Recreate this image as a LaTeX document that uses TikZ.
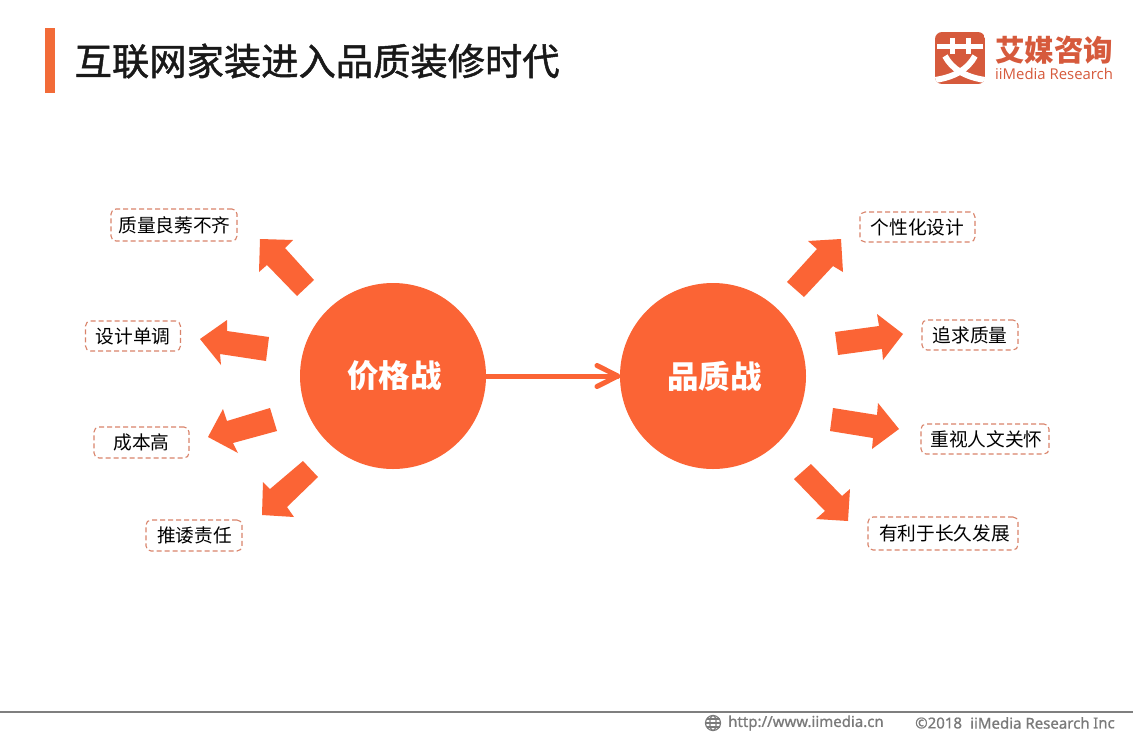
\documentclass[tikz,border=0pt]{standalone}
\usepackage{fontspec}
\usetikzlibrary{calc}
\setmainfont{Noto Sans CJK SC}
\newfontfamily\latinf{Open Sans}
\newfontfamily\footf[FakeBold=0.9]{Noto Sans}
\newfontfamily\titlef[FakeBold=1.3]{Noto Sans CJK SC}
\definecolor{orangeA}{HTML}{FB6435}
\definecolor{barC}{HTML}{F26B38}
\definecolor{logoC}{HTML}{D65A3C}
\definecolor{dashC}{HTML}{D9836A}
\definecolor{footC}{HTML}{7A7A7A}
\definecolor{lineC}{HTML}{7F7F7F}
\newcommand{\fs}[1]{\fontsize{#1pt}{#1pt}\selectfont}
\newcommand{\tg}[2][0pt]{\hspace*{#1}\raisebox{-1pt}{#2}}
\tikzset{
  tag/.style={draw=dashC,line width=1.1pt,dash pattern=on 5pt off 3pt,rounded corners=5pt,inner sep=0pt,font=\fs{18.7},text=black,anchor=center},
  hub/.style={circle,fill=orangeA,inner sep=0pt,minimum size=186pt,text=white,font=\fs{31.5}\bfseries},
  blockarrow/.style={fill=orangeA,draw=none},
  foot/.style={inner sep=0pt,anchor=west,text=footC,font=\footf\fs{15}},
  link/.style={orangeA,line width=5pt,line cap=round,line join=round}
}
\begin{document}
\begin{tikzpicture}[x=1pt,y=-1pt]
\useasboundingbox (0,0) rectangle (1133,737);
\fill[white] (0,0) rectangle (1133,737);
% title
\fill[barC] (45,28) rectangle (55,93);
\node[inner sep=0pt,anchor=west,font=\titlef\fs{37.3},text=black!90] (title) at (74.5,61) {互联网家装进入品质装修时代};
% logo
\begin{scope}
\clip[rounded corners=7pt] (935,32) rectangle (985,84);
\fill[logoC] (935,32) rectangle (985,84);
\begin{scope}[white,line width=5pt]
\draw (937,46) -- (983,46);
\draw (952,38) -- (952,54);
\draw (968,38) -- (968,54);
\draw[line width=6pt] (945,56) .. controls (952,69) and (965,77) .. (985,80);
\draw[line width=6pt] (975,56) .. controls (968,69) and (955,77) .. (935,80);
\end{scope}
\end{scope}
\node[inner sep=0pt,anchor=west,text=logoC,font=\fs{29.5}\bfseries] (logocn) at (995,50) {艾媒咨询};
\node[inner sep=0pt,anchor=west,text=logoC,font=\latinf\fs{14.9}] (logoen) at (995,74) {iiMedia Research};
% hubs
\node[hub] (price) at (393,376) {\hspace*{3pt}价格战};
\node[hub] (quality) at (713,376) {\hspace*{3pt}品质战};
\coordinate (tip) at ($(quality.west)+(-2,0)$);
\draw[link] (price.east) -- (tip);
\draw[link] (597,365.5) -- (tip) -- (597,386.5);
% left arrows
\fill[blockarrow] (314,280)--(297,296)--(267,265)--(259,272)--(260,239)--(293,240)--(285,248)--cycle;
\fill[blockarrow] (269,337)--(266,361)--(220,354)--(221,365)--(200,339)--(227,320)--(227,331)--cycle;
\fill[blockarrow] (270,408)--(277,431)--(233,443)--(238,453)--(208,437)--(223,409)--(227,421)--cycle;
\fill[blockarrow] (303,461)--(318,477)--(287,507)--(294,517)--(262,515)--(263,482)--(270,489)--cycle;
% right arrows
\fill[blockarrow] (787,282)--(804,297)--(833,266)--(843,272)--(841,239)--(808,241)--(817,249)--cycle;
\fill[blockarrow] (835,332)--(838,355)--(882,349)--(883,360)--(903,334)--(877,314)--(879,326)--cycle;
\fill[blockarrow] (833,408)--(830,431)--(873,438)--(872,449)--(899,429)--(878,403)--(877,415)--cycle;
\fill[blockarrow] (811,464)--(794,479)--(825,511)--(816,519)--(848,521)--(850,489)--(842,496)--cycle;
% tags
\node[tag,minimum width=126pt,minimum height=32pt] (a1) at (174,225) {\tg[1pt]{质量良莠不齐}};
\node[tag,minimum width=95pt,minimum height=30pt] (a2) at (133,336) {\tg{设计单调}};
\node[tag,minimum width=95pt,minimum height=31pt] (a3) at (141.5,442.5) {\tg{成本高}};
\node[tag,minimum width=96pt,minimum height=31pt] (a4) at (194,535.5) {\tg[1pt]{推诿责任}};
\node[tag,minimum width=115pt,minimum height=30pt] (b1) at (917.5,227) {\tg{个性化设计}};
\node[tag,minimum width=96pt,minimum height=30pt] (b2) at (970,335) {\tg{追求质量}};
\node[tag,minimum width=128pt,minimum height=30pt] (b3) at (985,439) {\tg[3pt]{重视人文关怀}};
\node[tag,minimum width=150pt,minimum height=33pt] (b4) at (943,533.5) {\tg[3pt]{有利于长久发展}};
% footer
\draw[lineC,line width=2pt] (0,712) -- (1133,712);
\begin{scope}[footC,line width=1.2pt]
\draw (713,723) circle (7.5pt);
\draw (713,723) ellipse (3.2pt and 7.5pt);
\draw (705.5,723) -- (720.5,723);
\draw (706.5,719) -- (719.5,719);
\draw (706.5,727) -- (719.5,727);
\end{scope}
\node[foot] (url) at (728,723) {http://www.iimedia.cn};
\node[foot] (copy) at (915,723) {©2018};
\node[foot] (corp) at (970,723) {iiMedia Research};
\node[foot] (inc) at (1093,723) {Inc};
\end{tikzpicture}
\end{document}
